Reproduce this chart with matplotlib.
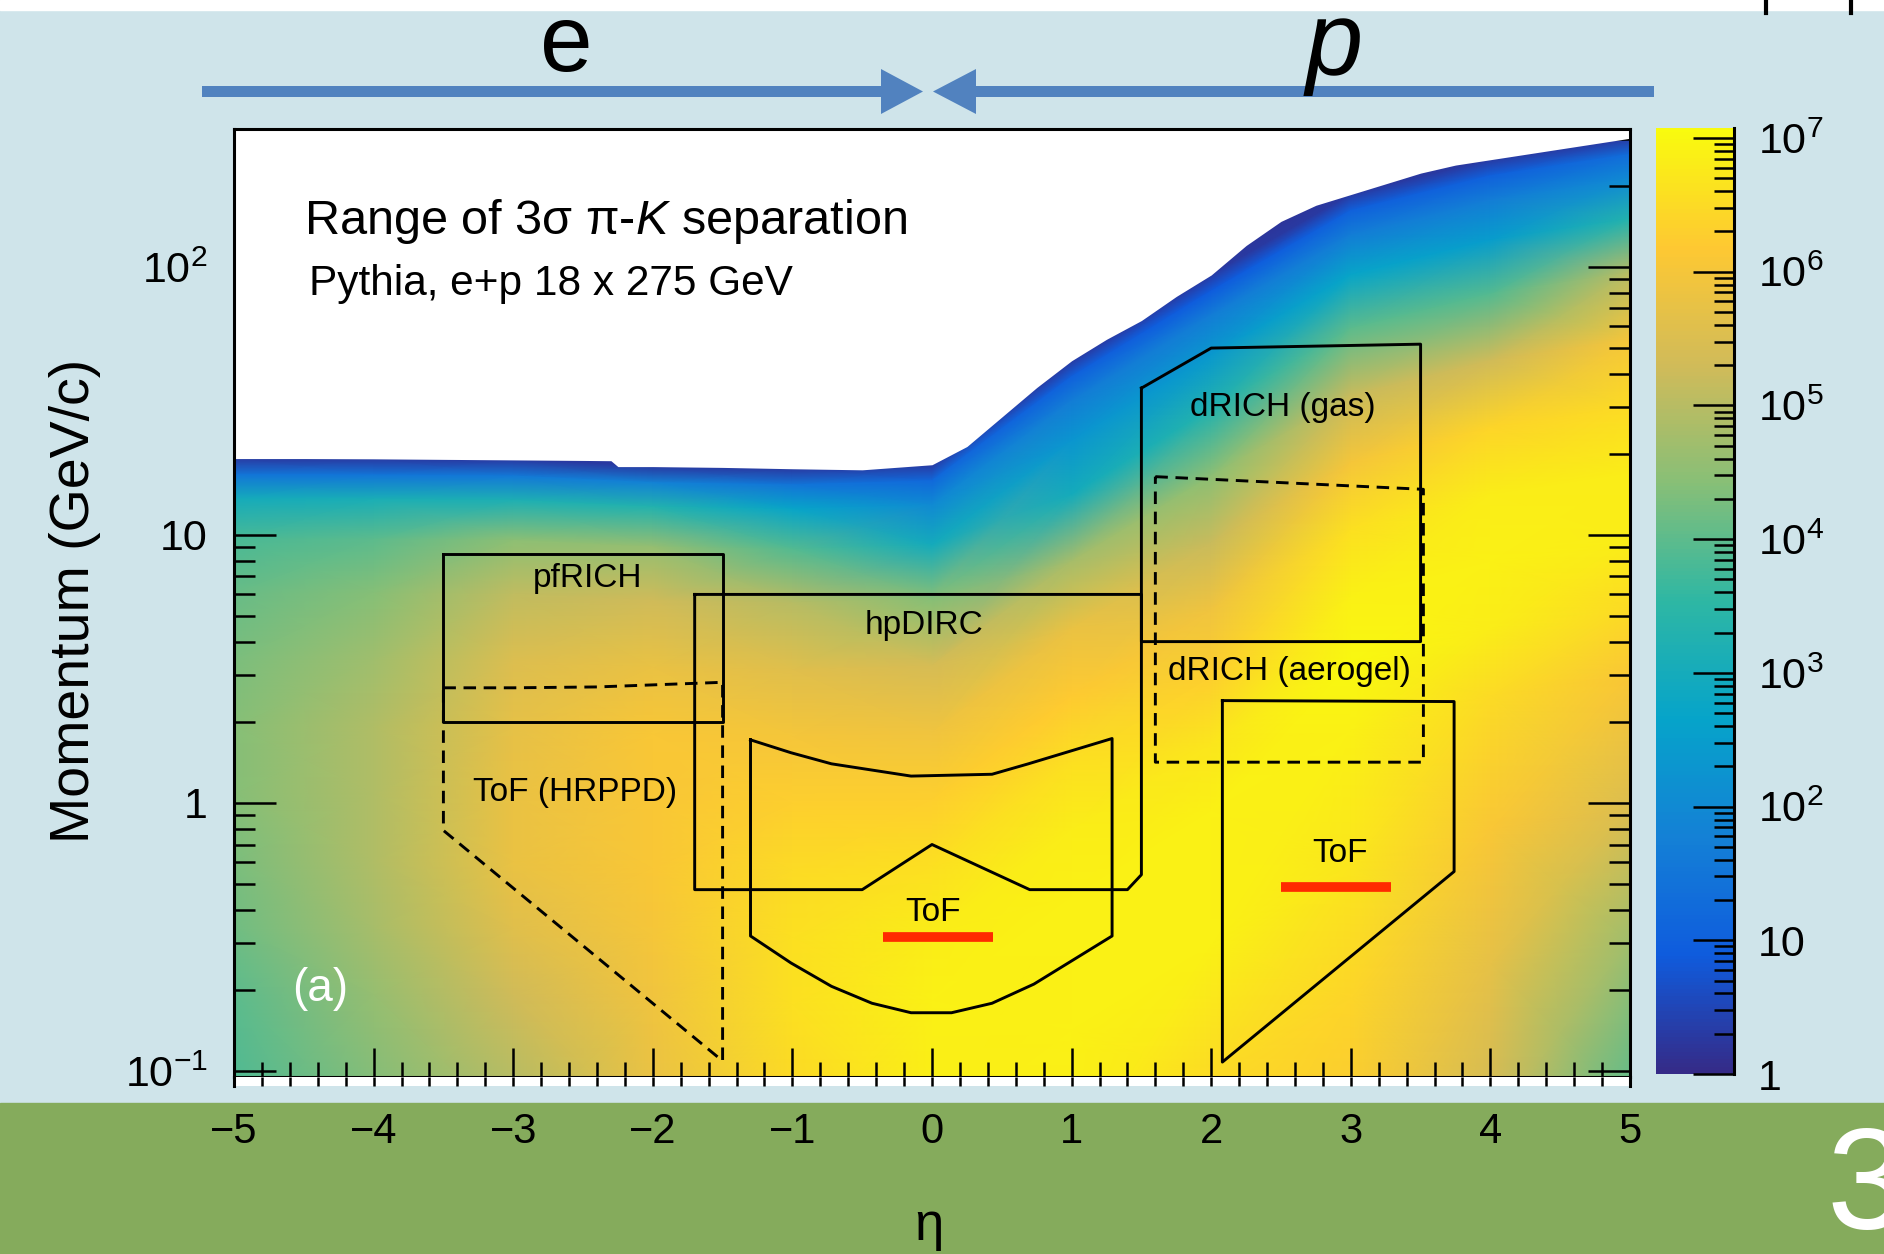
import numpy as np
import matplotlib
matplotlib.use("Agg")
import matplotlib.pyplot as plt
from matplotlib.colors import LinearSegmentedColormap, LogNorm
from matplotlib.cm import ScalarMappable
from matplotlib.patches import Rectangle, Polygon
from matplotlib.ticker import LogLocator, NullFormatter, MultipleLocator

plt.rcParams['font.family'] = ['Liberation Sans', 'DejaVu Sans']
plt.rcParams['mathtext.fontset'] = 'custom'
plt.rcParams['mathtext.rm'] = 'Liberation Sans'
plt.rcParams['mathtext.it'] = 'Liberation Sans:italic'
plt.rcParams['lines.scale_dashes'] = False

# ---- data ----
# upper edge of the populated region (eta, log10 p)
bound_eta = [-5, -4.5, -4, -3.5, -3, -2.5, -2.3, -2.25, -2, -1.5, -1, -0.5, 0, 0.25,
             0.5, 0.75, 1, 1.25, 1.5, 1.75, 2, 2.25, 2.5, 2.75, 3, 3.25, 3.5, 3.75,
             4, 4.25, 4.5, 4.75, 5]
bound_logp = [1.285, 1.285, 1.284, 1.282, 1.28, 1.278, 1.277, 1.255, 1.255, 1.252,
              1.247, 1.243, 1.262, 1.33, 1.44, 1.55, 1.65, 1.73, 1.80, 1.89, 1.97,
              2.08, 2.17, 2.23, 2.27, 2.31, 2.35, 2.38, 2.40, 2.42, 2.44, 2.46, 2.48]

# log10(counts) sampled at eta columns and depth (decades) below the upper edge
eta_cols = [-5, -4, -3, -2, -1, 0, 1, 2, 3, 4, 5]
depth = [-0.15, 0, 0.06, 0.15, 0.3, 0.5, 0.75, 1.0, 1.25, 1.5, 1.75, 2.0, 2.5, 3.0, 3.6]
log_counts = [
    [0.0, 0.0, 0.0, 0.0, 0.0, 0.0, 0.0, 0.0, 0.0, 0.0, 0.0],
    [0.3, 0.3, 0.3, 0.3, 0.3, 0.3, 0.3, 0.3, 0.3, 0.3, 0.3],
    [1.5, 1.5, 1.6, 1.8, 1.5, 1.2, 1.0, 0.9, 1.0, 1.0, 1.3],
    [3.0, 3.1, 3.2, 3.3, 2.7, 2.0, 1.7, 1.7, 1.7, 1.7, 2.0],
    [3.8, 4.0, 4.5, 4.6, 3.9, 3.0, 2.3, 2.4, 2.7, 2.5, 3.3],
    [4.1, 4.4, 5.1, 5.3, 5.0, 4.4, 3.0, 3.3, 4.0, 3.9, 5.0],
    [4.3, 4.7, 5.5, 5.8, 5.6, 5.4, 4.8, 4.5, 5.2, 5.3, 6.0],
    [4.4, 4.9, 5.7, 6.1, 6.0, 5.9, 5.8, 5.2, 6.0, 6.4, 6.5],
    [4.4, 4.9, 5.8, 6.1, 6.3, 6.3, 6.2, 5.9, 6.6, 6.8, 6.8],
    [4.3, 4.9, 5.8, 6.1, 6.5, 6.6, 6.6, 6.3, 6.9, 6.9, 6.8],
    [4.2, 4.8, 5.6, 6.0, 6.6, 6.8, 6.8, 6.7, 7.0, 6.8, 6.5],
    [4.0, 4.6, 5.3, 5.9, 6.6, 6.9, 6.9, 6.9, 6.9, 6.5, 6.1],
    [3.8, 4.3, 4.8, 5.7, 6.4, 6.8, 6.9, 6.9, 6.7, 6.1, 5.5],
    [3.7, 4.0, 4.5, 5.5, 6.3, 6.7, 6.8, 6.5, 6.4, 5.7, 4.7],
    [3.6, 3.8, 4.3, 5.3, 6.2, 6.6, 6.7, 6.3, 6.1, 5.3, 4.0],
]

# detector acceptance outlines (eta, p)
pfrich_eta = [-3.5, -1.5, -1.5, -3.5, -3.5]
pfrich_p = [8.5, 8.5, 2.0, 2.0, 8.5]
hrppd_eta = [-3.5, -3.0, -2.4, -1.5, -1.5, -3.5, -3.5]
hrppd_p = [2.69, 2.69, 2.71, 2.82, 0.109, 0.79, 2.69]
hpdirc_eta = [-1.7, 1.5, 1.5, 1.4, 0.7, 0.0, -0.5, -1.7, -1.7]
hpdirc_p = [6.0, 6.0, 0.54, 0.475, 0.475, 0.70, 0.475, 0.475, 6.0]
btof_eta = [-1.3, -1.01, -0.72, -0.15, 0.43, 0.69, 1.29, 1.29, 0.73, 0.43, 0.14,
            -0.15, -0.43, -0.72, -1.01, -1.3, -1.3]
btof_p = [1.72, 1.54, 1.40, 1.26, 1.28, 1.40, 1.74, 0.319, 0.211, 0.179, 0.165,
          0.165, 0.179, 0.207, 0.253, 0.319, 1.72]
gas_eta = [1.5, 2.0, 3.5, 3.5, 1.5, 1.5]
gas_p = [35.3, 49.8, 51.5, 4.0, 4.0, 35.3]
aero_eta = [1.6, 3.52, 3.52, 1.6, 1.6]
aero_p = [16.5, 14.8, 1.42, 1.42, 16.5]
ftof_eta = [2.08, 3.74, 3.74, 2.08, 2.08]
ftof_p = [2.41, 2.39, 0.555, 0.108, 2.41]
tof_bars = [([-0.35, 0.44], 0.316), ([2.5, 3.29], 0.487)]

labels = [("pfRICH", -2.47, 6.86), ("ToF (HRPPD)", -2.56, 1.09), ("hpDIRC", -0.06, 4.6),
          ("ToF", 0.01, 0.389), ("dRICH (gas)", 2.51, 29.9),
          ("dRICH (aerogel)", 2.56, 3.1), ("ToF", 2.92, 0.65)]

# ROOT kBird palette
bird = LinearSegmentedColormap.from_list("bird", [
    (0.2082, 0.1664, 0.5293), (0.0592, 0.3599, 0.8684), (0.0780, 0.5041, 0.8385),
    (0.0232, 0.6419, 0.7914), (0.1802, 0.7178, 0.6425), (0.5301, 0.7492, 0.4662),
    (0.8186, 0.7328, 0.3499), (0.9956, 0.7862, 0.1968), (0.9764, 0.9832, 0.0539)])
norm = LogNorm(1, 10 ** 7.075)

LIGHT_BLUE = '#cfe4ea'
GREEN = '#85ab5c'
ARROW = '#5182bf'

W, H = 1884, 1254


def frect(l, t, r, b):
    return [l / W, 1 - b / H, (r - l) / W, (b - t) / H]


fig = plt.figure(figsize=(W / 100, H / 100), dpi=100)

# slide background
bg = fig.add_axes([0, 0, 1, 1], zorder=-5)
bg.set_xlim(0, W)
bg.set_ylim(H, 0)
bg.axis('off')
bg.add_patch(Rectangle((0, 0), W, H, color=LIGHT_BLUE))
bg.add_patch(Rectangle((0, 0), W, 10, color='white'))
bg.add_patch(Rectangle((0, 1103), W, H - 1103, color=GREEN))
bg.plot([1766, 1766], [0, 13], color='k', lw=3)
bg.plot([1851, 1851], [0, 13], color='k', lw=3)
# beam arrows
bg.add_patch(Rectangle((202, 86), 681, 11, color=ARROW, lw=0))
bg.add_patch(Polygon([(881, 69), (923, 91.5), (881, 114)], color=ARROW, lw=0))
bg.add_patch(Rectangle((976, 86), 678, 11, color=ARROW, lw=0))
bg.add_patch(Polygon([(976, 69), (933, 91.5), (976, 114)], color=ARROW, lw=0))
bg.text(566, 71, "e", fontsize=68, ha='center', va='baseline')
bg.text(1334, 74, "p", fontsize=74, ha='center', va='baseline', style='italic')
bg.text(1826, 1192, "3", fontsize=104, color='white', ha='left', va='center')

# main panel
ax = fig.add_axes(frect(234, 129, 1630, 1077))
ax.set_yscale('log')
ax.set_xlim(-5, 5)
ax.set_ylim(0.095, 327)

top_cols = np.interp(eta_cols, bound_eta, bound_logp)
LP = top_cols[None, :] - np.array(depth)[:, None]
X = np.broadcast_to(np.array(eta_cols, float), LP.shape)
ax.pcolormesh(X, 10 ** LP, 10 ** np.array(log_counts), shading='gouraud',
              cmap=bird, norm=norm, rasterized=True, zorder=1)
ax.fill_between(bound_eta, 10 ** np.array(bound_logp), 1e4, color='white', lw=0, zorder=2)

lw = 2.1
ax.plot(pfrich_eta, pfrich_p, color='k', lw=lw, zorder=4)
ax.plot(hrppd_eta, hrppd_p, color='k', lw=lw, ls=(0, (9, 5.5)), zorder=4)
ax.plot(hpdirc_eta, hpdirc_p, color='k', lw=lw, zorder=4)
ax.plot(btof_eta, btof_p, color='k', lw=lw, zorder=4)
ax.plot(gas_eta, gas_p, color='k', lw=lw, zorder=4)
ax.plot(aero_eta, aero_p, color='k', lw=lw, ls=(0, (9, 5.5)), zorder=4)
ax.plot(ftof_eta, ftof_p, color='k', lw=lw, zorder=4)
for xs, p in tof_bars:
    ax.plot(xs, [p, p], color='#ff2a00', lw=7, solid_capstyle='butt', zorder=5)
for txt, x, y in labels:
    ax.text(x, y, txt, fontsize=24, ha='center', va='center', zorder=5)

ax.xaxis.set_minor_locator(MultipleLocator(0.2))
ax.set_xticks(range(-5, 6))
ax.set_xticklabels([f"{v}".replace('-', '\u2212') for v in range(-5, 6)])
ax.set_yticks([0.1, 1, 10, 100])
ax.set_yticklabels(['$10^{-1}$', '1', '10', '$10^{2}$'])
ax.yaxis.set_minor_locator(LogLocator(base=10, subs=np.arange(2, 10)))
ax.yaxis.set_minor_formatter(NullFormatter())
ax.tick_params(axis='y', which='both', direction='in', left=True, right=True,
               width=1.8, labelsize=31, pad=19)
ax.tick_params(axis='y', which='major', length=30)
ax.tick_params(axis='y', which='minor', length=15)
ax.tick_params(axis='x', which='both', direction='in', top=False, width=1.8,
               labelsize=30, pad=25)
ax.tick_params(axis='x', which='major', length=21)
ax.tick_params(axis='x', which='minor', length=11)
for s in ax.spines.values():
    s.set_linewidth(2.2)
ax.spines['bottom'].set_zorder(6)

ax.text(304 / W, 1 - 221 / H, r"Range of 3σ π-$K$ separation", transform=fig.transFigure,
        fontsize=35, ha='left', va='center', zorder=6)
ax.text(309 / W, 1 - 284 / H, "Pythia, e+p 18 x 275 GeV", transform=fig.transFigure,
        fontsize=30.5, ha='left', va='center', zorder=6)
ax.text(292 / W, 1 - 989 / H, "(a)", transform=fig.transFigure, color='white',
        fontsize=33, ha='left', va='center', zorder=6)

# thin white strip under the frame
strip = fig.add_axes(frect(234, 1077, 1630, 1086))
strip.set_xlim(-5, 5)
strip.set_ylim(0, 1)
strip.xaxis.set_major_locator(MultipleLocator(0.2))
strip.set_yticks([])
strip.tick_params(axis='x', direction='in', length=6.5, width=1.8, labelbottom=False)
for s in ['top', 'bottom']:
    strip.spines[s].set_visible(False)
for s in ['left', 'right']:
    strip.spines[s].set_linewidth(2.2)

fig.text(929 / W, 1 - 1226 / H, "η", fontsize=38, ha='center', va='center')
fig.text(75 / W, 1 - 601 / H, "Momentum (GeV/c)", fontsize=40, rotation=90,
         ha='center', va='center')

# colour scale
cax = fig.add_axes(frect(1656, 128, 1734, 1074))
cb = fig.colorbar(ScalarMappable(norm=norm, cmap=bird), cax=cax)
cb.outline.set_visible(False)
cb.set_ticks([10 ** k for k in range(8)],
             labels=['1', '10'] + [f'$10^{{{k}}}$' for k in range(2, 8)])
cax.yaxis.set_minor_locator(LogLocator(base=10, subs=np.arange(2, 10)))
cax.yaxis.set_minor_formatter(NullFormatter())
cax.yaxis.set_ticks_position('right')
cax.tick_params(which='both', direction='in', width=1.8, labelsize=31, pad=17)
cax.tick_params(which='major', length=29.5)
cax.tick_params(which='minor', length=14.5)
cax.plot([1, 1], [0, 1], transform=cax.transAxes, color='k', lw=2.2, clip_on=False)

fig.savefig("out.png", dpi=100)
